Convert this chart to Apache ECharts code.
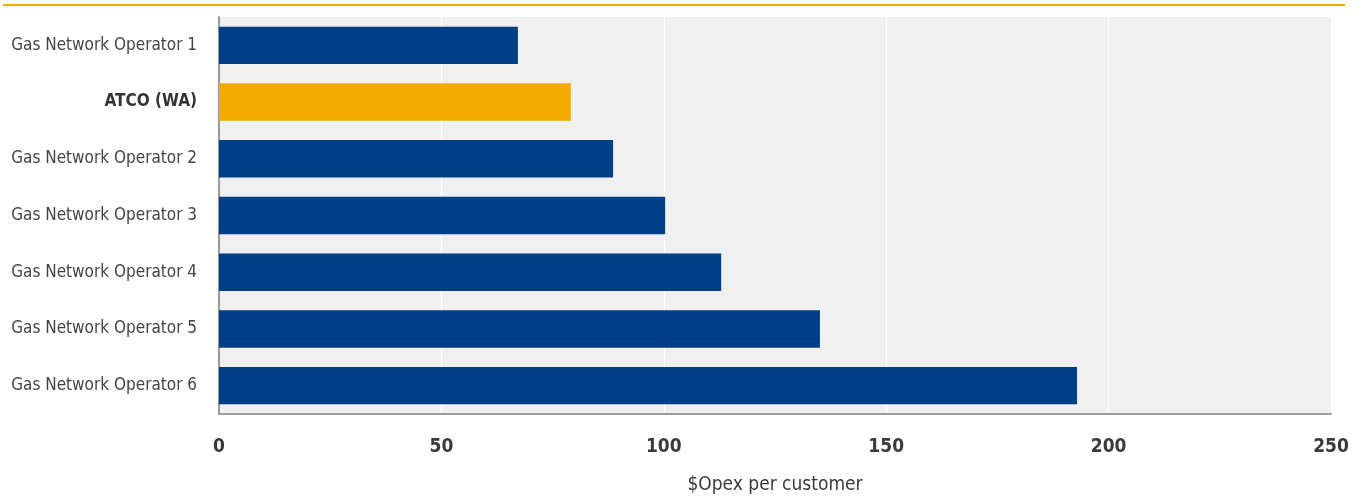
<!DOCTYPE html>
<html>
<head>
<meta charset="utf-8">
<script src="https://cdn.jsdelivr.net/npm/echarts@6/dist/echarts.min.js"></script>
<style>html,body{margin:0;padding:0;background:#fff;}#c{width:1361px;height:496px;}</style>
</head>
<body>
<div id="c"></div>
<script>
const categories = ["Gas Network Operator 1","ATCO (WA)","Gas Network Operator 2","Gas Network Operator 3","Gas Network Operator 4","Gas Network Operator 5","Gas Network Operator 6"];
const values = [67.2, 79.1, 88.6, 100.3, 112.9, 135.1, 192.9];
const highlight = "ATCO (WA)";
const xTicks = [0, 50, 100, 150, 200, 250];
const axisTitle = "$Opex per customer";

const FONT = "'DejaVu Sans Condensed','Liberation Sans Narrow',sans-serif";
const chart = echarts.init(document.getElementById('c'), null, {renderer:'canvas'});
chart.setOption({
  animation:false,
  backgroundColor:'#ffffff',
  graphic:[{type:'line', shape:{x1:3,y1:5,x2:1345,y2:5}, style:{stroke:'#f2a900', lineWidth:2}}],
  grid:{left:219, right:30, top:17, bottom:82, show:true, backgroundColor:'#f0f0f0', borderWidth:0, containLabel:false, outerBoundsMode:'none'},
  xAxis:{
    type:'value', min:xTicks[0], max:xTicks[xTicks.length-1], interval:50,
    axisLine:{show:true, lineStyle:{color:'#9a9a9a', width:2}},
    axisTick:{show:false},
    splitLine:{show:true, lineStyle:{color:'#ffffff', width:1}},
    axisLabel:{color:'#3a3a3a', fontFamily:FONT, fontSize:19, fontWeight:'bold', margin:24},
    name:axisTitle, nameLocation:'middle', nameGap:62,
    nameTextStyle:{color:'#3a3a3a', fontFamily:FONT, fontSize:19}
  },
  yAxis:{
    type:'category', data:categories, inverse:true,
    axisLine:{show:true, lineStyle:{color:'#9a9a9a', width:2}},
    axisTick:{show:false},
    axisLabel:{
      fontFamily:FONT, fontSize:17, margin:22,
      formatter:function(v){return v===highlight ? '{b|'+v+'}' : '{n|'+v+'}';},
      rich:{n:{color:'#444444', fontFamily:FONT, fontSize:17}, b:{color:'#333333', fontFamily:FONT, fontSize:17, fontWeight:'bold'}}
    }
  },
  series:[{
    type:'bar', barWidth:'66%',
    data: values.map((v,i)=>({value:v, itemStyle:{color: categories[i]===highlight ? '#f2ac00' : '#003f87'}}))
  }]
});
</script>
</body>
</html>
